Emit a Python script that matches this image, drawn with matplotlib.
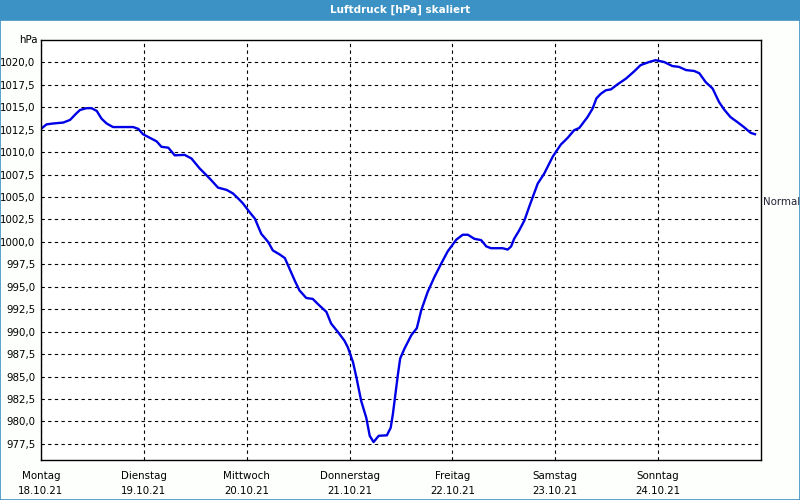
#!/usr/bin/env python3
"""Luftdruck chart, one week, scaled axis."""

import matplotlib
matplotlib.use("Agg")
import matplotlib.pyplot as plt
from matplotlib.patches import Rectangle
from matplotlib.transforms import blended_transform_factory

# hours since Monday 18.10.21 00:00
hours = [0, 1.3, 2.9, 5.2, 6.8, 8.2, 9.1, 10.6, 11.8, 13.0, 14.1, 15.3, 16.8,
         21.5, 22.7, 23.8, 25.4, 27.0, 28.1, 29.7, 31.2, 33.5, 35.1, 37.0,
         39.4, 41.3, 43.3, 44.8, 46.2, 47.1, 48.7, 49.9, 51.4, 53.0, 54.1,
         55.7, 56.9, 58.0, 59.2, 60.3, 61.9, 63.4, 65.0, 66.6, 67.7, 69.3,
         70.8, 71.6, 72.8, 73.6, 74.7, 75.9, 76.7, 77.6, 78.8, 80.7, 81.6,
         82.1, 82.7, 83.3, 83.8, 84.8, 86.4, 87.7, 88.7, 90.2, 91.8, 93.4,
         94.9, 96.9, 98.4, 99.6, 101.1, 102.7, 103.9, 105.0, 107.7, 108.9,
         109.7, 110.4, 111.6, 112.8, 113.9, 115.9, 117.4, 119.4, 121.3,
         122.9, 124.4, 125.6, 127.5, 128.7, 129.6, 130.6, 131.8, 133.0,
         134.5, 136.5, 138.4, 139.9, 141.9, 143.4, 145.4, 147.3, 148.9,
         150.5, 152.4, 153.6, 155.1, 156.7, 158.2, 159.4, 160.9, 162.5,
         164.0, 165.6, 166.6]
pressure = [1012.6, 1013.1, 1013.2, 1013.3, 1013.6, 1014.3, 1014.7, 1014.9,
            1014.9, 1014.6, 1013.75, 1013.2, 1012.8, 1012.8, 1012.6, 1012.0,
            1011.6, 1011.2, 1010.6, 1010.5, 1009.65, 1009.7, 1009.3, 1008.2,
            1007.05, 1006.05, 1005.8, 1005.4, 1004.75, 1004.3, 1003.3, 1002.6,
            1000.9, 1000.0, 999.05, 998.6, 998.2, 997.0, 995.7, 994.6, 993.75,
            993.65, 992.9, 992.2, 990.9, 989.95, 989.0, 988.25, 986.6, 984.9,
            982.3, 980.4, 978.4, 977.7, 978.4, 978.45, 979.3, 980.8, 983.05,
            985.3, 987.0, 988.1, 989.6, 990.4, 992.35, 994.4, 996.1, 997.6,
            998.95, 1000.25, 1000.8, 1000.8, 1000.35, 1000.2, 999.5, 999.3,
            999.3, 999.15, 999.5, 1000.35, 1001.3, 1002.4, 1003.9, 1006.5,
            1007.6, 1009.5, 1010.85, 1011.6, 1012.45, 1012.7, 1013.9, 1014.85,
            1016.0, 1016.5, 1016.9, 1017.0, 1017.55, 1018.2, 1019.0, 1019.7,
            1020.05, 1020.25, 1020.05, 1019.6, 1019.5, 1019.15, 1019.05,
            1018.8, 1017.8, 1017.1, 1015.6, 1014.75, 1013.9, 1013.35, 1012.8,
            1012.15, 1012.0]

day_names = ["Montag", "Dienstag", "Mittwoch", "Donnerstag", "Freitag",
             "Samstag", "Sonntag"]
day_dates = ["18.10.21", "19.10.21", "20.10.21", "21.10.21", "22.10.21",
             "23.10.21", "24.10.21"]
y_ticks = [977.5 + 2.5 * i for i in range(18)]

TITLE_BLUE = "#3c92c4"
LINE_BLUE = "#0000e6"

plt.rcParams["font.family"] = ["DejaVu Sans"]

fig = plt.figure(figsize=(8, 5), dpi=100, facecolor="#fdfffd")

# title bar and window border
fig.patches.append(Rectangle((0, 0.96), 1, 0.04, transform=fig.transFigure,
                             facecolor=TITLE_BLUE, edgecolor="none"))
fig.patches.append(Rectangle((0.0006, 0.001), 0.9988, 0.96, transform=fig.transFigure,
                             facecolor="none", edgecolor=TITLE_BLUE, linewidth=1.2))
fig.text(0.5, 0.98, "Luftdruck [hPa] skaliert", color="white", fontsize=7.5,
         fontweight="bold", ha="center", va="center")

ax = fig.add_axes([41 / 800, 40 / 500, 720 / 800, 420 / 500])
ax.set_facecolor("white")
ax.plot(hours, pressure, color=LINE_BLUE, linewidth=1.7, solid_joinstyle="round")

ax.set_xlim(0, 168)
ax.set_ylim(975.7, 1022.5)

xt = [24 * i for i in range(7)]
ax.set_xticks(xt)
ax.set_xticklabels([f"{n}\n{d}" for n, d in zip(day_names, day_dates)],
                   fontsize=7.4, linespacing=1.55)
ax.set_yticks(y_ticks)
ax.set_yticklabels([f"{v:.1f}".replace(".", ",") for v in y_ticks], fontsize=7.4)
ax.tick_params(length=0, pad=4)
ax.tick_params(axis="x", pad=8)

ax.grid(True, color="black", linestyle=(0, (3, 3)), linewidth=0.8)
for s in ax.spines.values():
    s.set_color("black")
    s.set_linewidth(1.0)

ax.text(-0.005, 1.0, "hPa", transform=ax.transAxes, fontsize=7.4,
        ha="right", va="center")
trans = blended_transform_factory(ax.transAxes, ax.transData)
ax.text(1.003, 1004.5, "Normal", transform=trans, fontsize=7.4,
        ha="left", va="center", color="#222233")

fig.savefig("out.png", dpi=100, facecolor=fig.get_facecolor())
